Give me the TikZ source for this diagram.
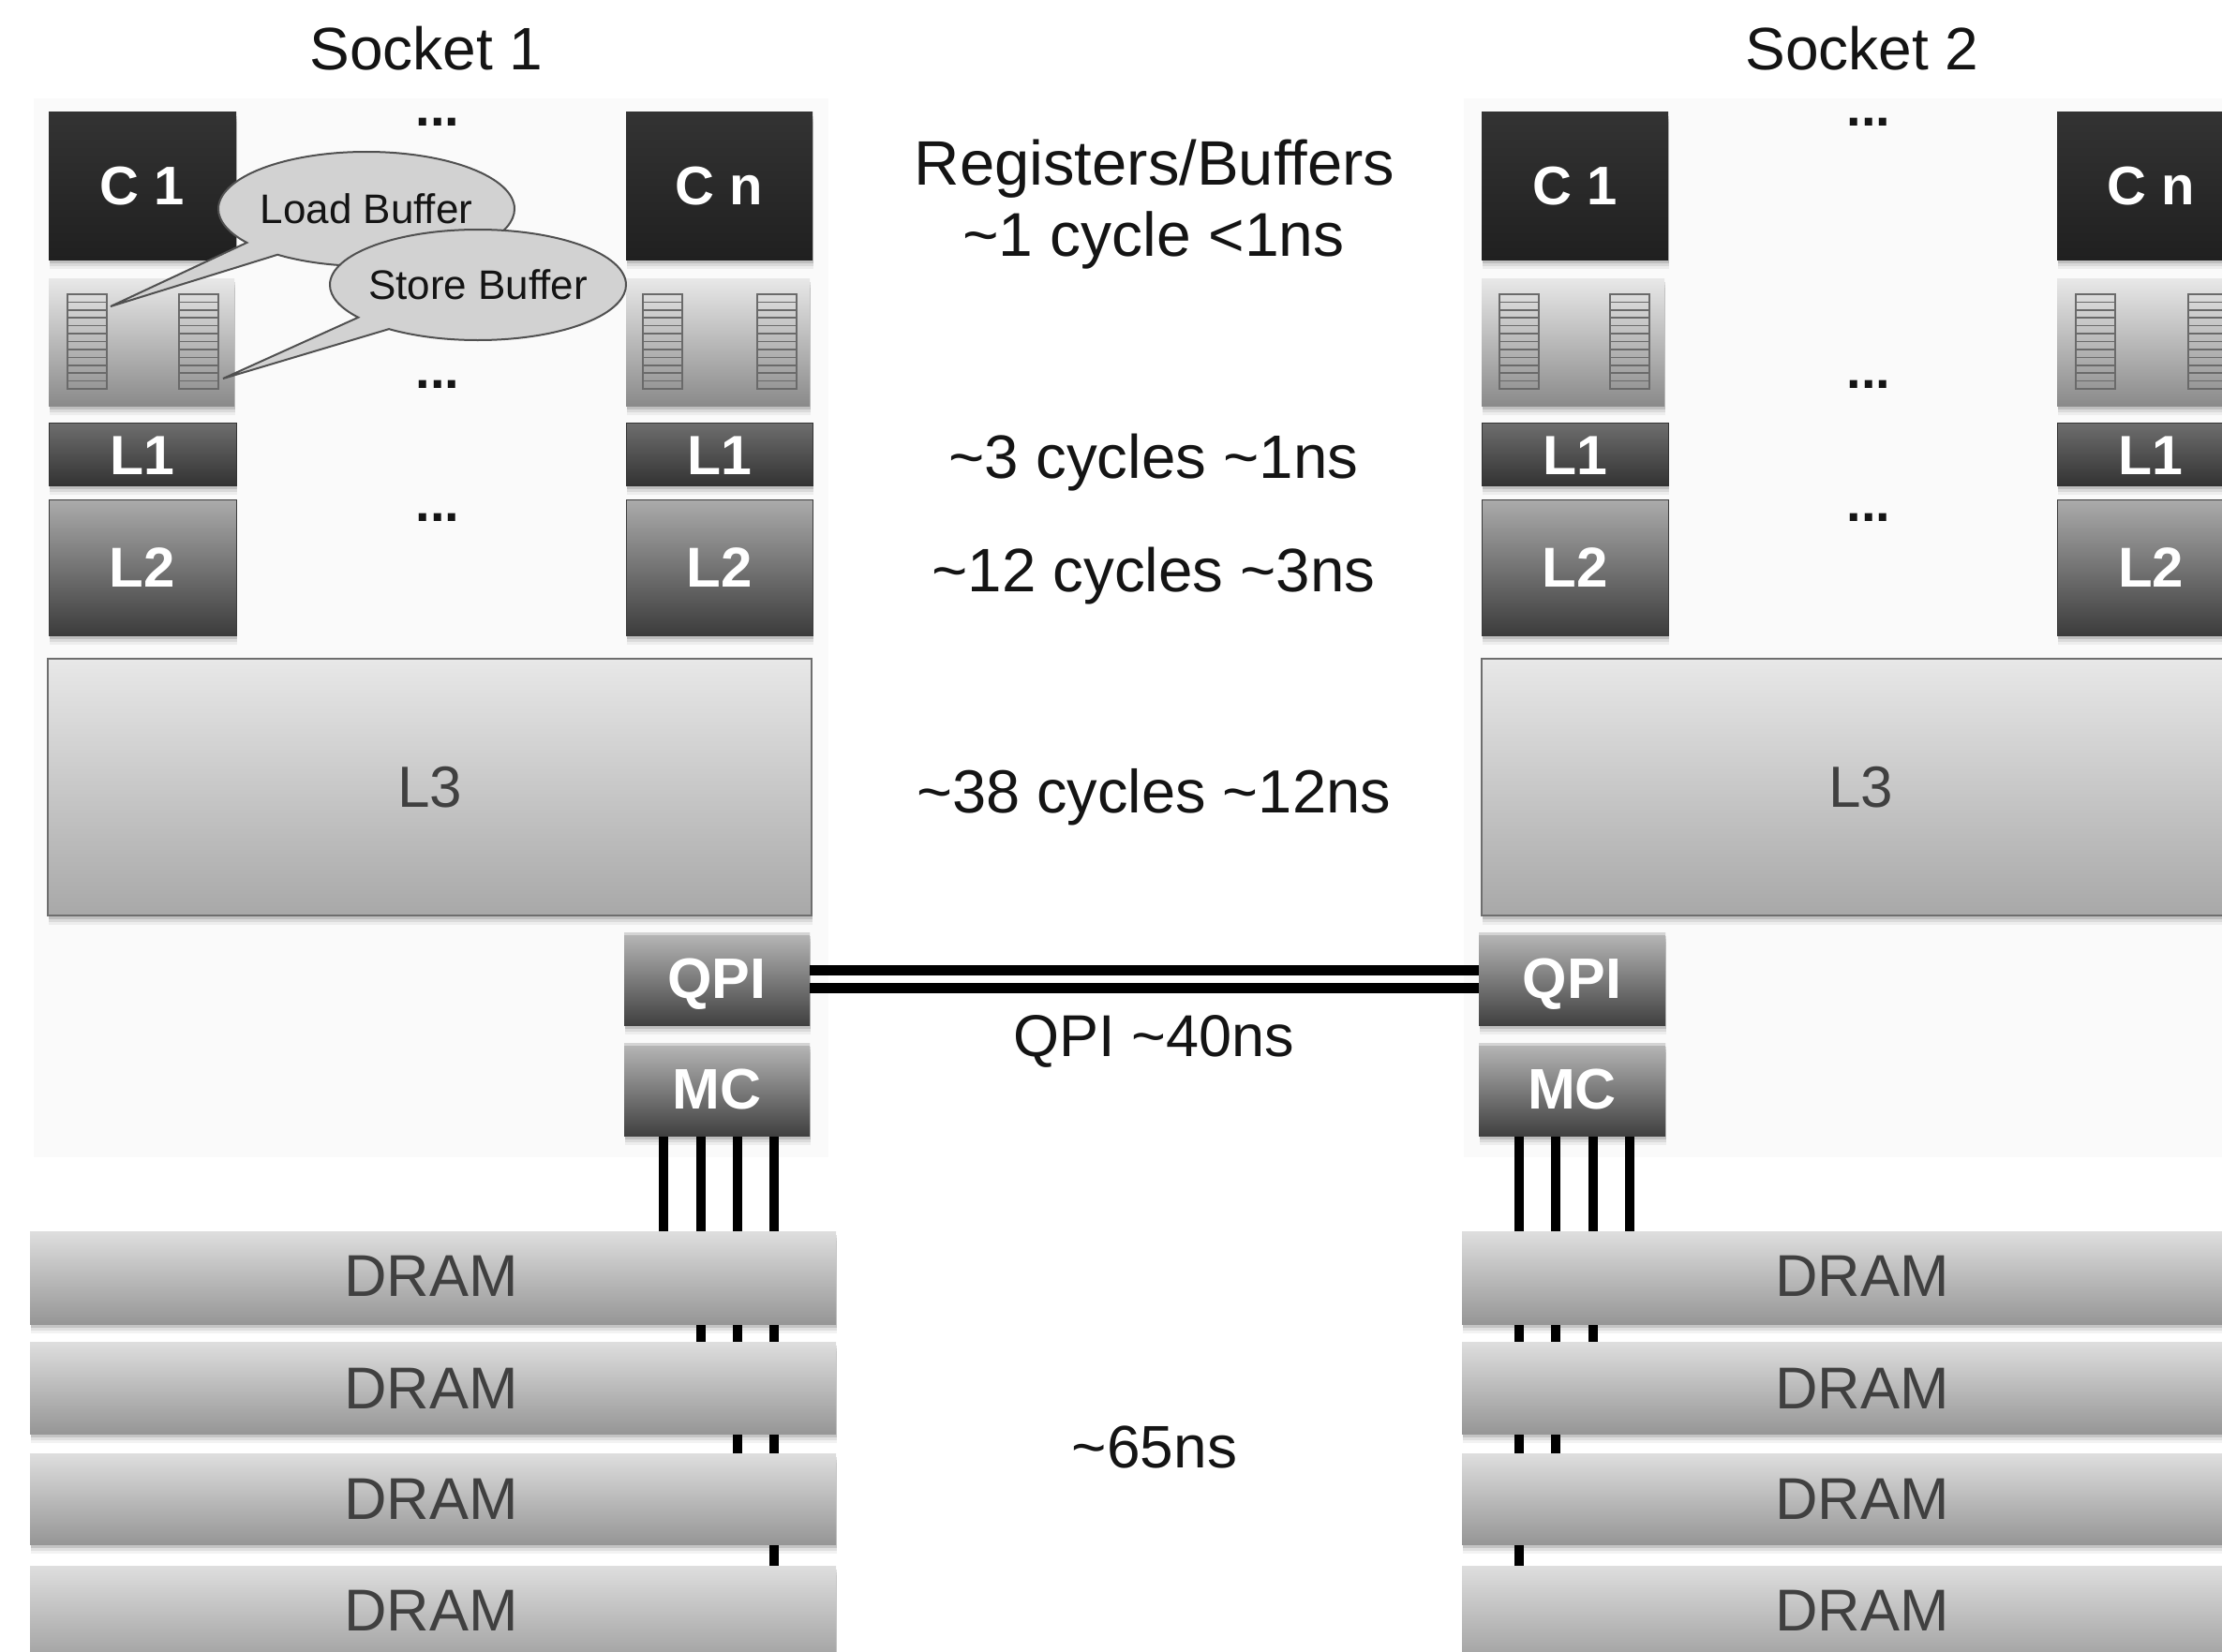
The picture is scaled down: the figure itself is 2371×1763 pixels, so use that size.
\documentclass[tikz,border=0pt]{standalone}
\usepackage{fontspec}
\setmainfont{Liberation Sans}
\usetikzlibrary{shapes.callouts,shadows,calc,backgrounds}
\newcommand\fs[1]{\fontsize{#1}{#1}\selectfont}
\newcommand\bx[7]{%
  \pgfmathsetmacro\bw{#5-#3}\pgfmathsetmacro\bh{#6-#4}%
  \pgfmathsetmacro\bcx{(#3+#5)/2}\pgfmathsetmacro\bcy{(#4+#6)/2}%
  \node[#2,minimum width=\bw pt,minimum height=\bh pt] (#1) at (\bcx,\bcy) {#7};}
\newcommand\qbar[1]{%
  \pgfmathsetmacro\qr{#1+42}%
  \foreach \r in {0,...,11} {\pgfmathsetmacro\qa{314+\r*8.42}\pgfmathsetmacro\qb{\qa+8.42}%
    \draw[qline] (#1,\qa) rectangle (\qr,\qb);}}
\tikzset{
  base/.style={inner sep=0pt,outer sep=0pt,text depth=0pt,align=center},
  soft/.style={drop shadow={shadow xshift=1pt,shadow yshift=-10pt,fill=black,opacity=.05},
               drop shadow={shadow xshift=1pt,shadow yshift=-7pt,fill=black,opacity=.08},
               drop shadow={shadow xshift=1pt,shadow yshift=-4pt,fill=black,opacity=.12}},
  core/.style={base,soft,top color=cTop,bottom color=cBot,text=white,font=\fs{58}\bfseries},
  buf/.style={base,soft,top color=bTop,bottom color=bBot},
  lone/.style={base,soft,top color=lTop,bottom color=lBot,draw=lBot,line width=1pt,text=white,font=\fs{59}\bfseries},
  ltwo/.style={base,soft,top color=tTop,bottom color=tBot,draw=tBot,line width=1pt,text=white,font=\fs{60}\bfseries},
  lthree/.style={base,soft,top color=hTop,bottom color=hBot,draw=hEdge,line width=2pt,text=dtext,font=\fs{62}},
  ctrl/.style={base,soft,top color=qTop,bottom color=qBot,text=white,font=\fs{61}\bfseries,
    path picture={\draw[qHi,line width=6pt] (path picture bounding box.north west) -- (path picture bounding box.north east);}},
  dram/.style={base,soft,top color=dTop,bottom color=dBot},
  dramtext/.style={inner sep=0pt,text depth=0pt,text=dtext,font=\fs{63}},
  qline/.style={draw=qEdge,line width=1.6pt},
  lab/.style={inner sep=0pt,text=ltext},
  dots/.style={inner sep=0pt,anchor=base,text=ltext,font=\fs{56}\bfseries},
  bubble/.style={ellipse callout,draw=bEdge,fill=bFill,line width=2pt,inner sep=0pt,text=ltext,font=\fs{44},
    callout pointer arc=17,text depth=0pt},
  wire/.style={draw=black,line width=10.5pt},
  linkbar/.style={draw=black,line width=11pt},
  sockbg/.style={fill=sBg,draw=none}
}
\definecolor{cTop}{HTML}{333333}\definecolor{cBot}{HTML}{202020}
\definecolor{bTop}{HTML}{E8E8E8}\definecolor{bBot}{HTML}{8A8A8A}
\definecolor{lTop}{HTML}{6E6E6E}\definecolor{lBot}{HTML}{333333}
\definecolor{tTop}{HTML}{ABABAB}\definecolor{tBot}{HTML}{3C3C3C}
\definecolor{hTop}{HTML}{E8E8E8}\definecolor{hBot}{HTML}{A8A8A8}\definecolor{hEdge}{HTML}{6E6E6E}
\definecolor{qTop}{HTML}{B8B8B8}\definecolor{qBot}{HTML}{404040}\definecolor{qHi}{HTML}{D4D4D4}
\definecolor{dTop}{HTML}{DEDEDE}\definecolor{dBot}{HTML}{969696}
\definecolor{dtext}{HTML}{404040}\definecolor{ltext}{HTML}{141414}
\definecolor{qEdge}{HTML}{6A6A6A}\definecolor{bEdge}{HTML}{505050}\definecolor{bFill}{HTML}{D2D2D2}
\definecolor{sBg}{HTML}{FAFAFA}
\begin{document}
\begin{tikzpicture}[x=1pt,y=-1pt]
\useasboundingbox (0,0) rectangle (2371,1763);
% headings and latencies
\node[lab,font=\fs{64}] (s1) at (455,52) {Socket 1};
\node[lab,font=\fs{64}] (s2) at (1987,52) {Socket 2};
\node[lab,font=\fs{67}] (t0) at (1232,180) {Registers/Buffers};
\node[lab,font=\fs{66}] (t1) at (1231,256) {\textasciitilde1 cycle <1ns};
\node[lab,font=\fs{65.5}] (t2) at (1231,494) {\textasciitilde3 cycles \textasciitilde1ns};
\node[lab,font=\fs{65.5}] (t3) at (1231,615) {\textasciitilde12 cycles \textasciitilde3ns};
\node[lab,font=\fs{65}] (t4) at (1231,851) {\textasciitilde38 cycles \textasciitilde12ns};
\node[lab,font=\fs{63}] (t5) at (1231,1111) {QPI \textasciitilde40ns};
\node[lab,font=\fs{64}] (t6) at (1232,1544) {\textasciitilde65ns};
% dots
\node[dots] (da) at (467,135) {...};
\node[dots] (db) at (467,414) {...};
\node[dots] (dc) at (467,556) {...};
\node[dots] (dd) at (1994,135) {...};
\node[dots] (de) at (1994,414) {...};
\node[dots] (df) at (1994,556) {...};
% socket 1
\bx{c1a}{core}{52}{120}{252}{277}{C 1}
\bx{cna}{core}{668}{120}{867}{277}{C n}
\bx{b1a}{buf}{52}{297}{250}{433}{}
\bx{bna}{buf}{668}{297}{864}{433}{}
\qbar{72}\qbar{191}\qbar{686}\qbar{808}
\bx{l1a}{lone}{52}{451}{252}{518}{\raisebox{-3pt}{L1}}
\bx{l1b}{lone}{668}{451}{867}{518}{\raisebox{-3pt}{L1}}
\bx{l2a}{ltwo}{52}{533}{252}{678}{L2}
\bx{l2b}{ltwo}{668}{533}{867}{678}{L2}
\bx{l3a}{lthree}{51}{703}{866}{977}{L3}
\bx{qa}{ctrl}{666}{995}{864}{1094}{QPI}
\bx{ma}{ctrl}{666}{1113}{864}{1212}{MC}
% socket 2
\bx{c1c}{core}{1581}{120}{1780}{277}{C 1}
\bx{cnc}{core}{2195}{120}{2395}{277}{C n}
\bx{b1c}{buf}{1581}{297}{1776}{433}{}
\bx{bnc}{buf}{2195}{297}{2395}{433}{}
\qbar{1600}\qbar{1718}\qbar{2215}\qbar{2335}
\bx{l1c}{lone}{1581}{451}{1780}{518}{\raisebox{-3pt}{L1}}
\bx{l1d}{lone}{2195}{451}{2395}{518}{\raisebox{-3pt}{L1}}
\bx{l2c}{ltwo}{1581}{533}{1780}{678}{L2}
\bx{l2d}{ltwo}{2195}{533}{2395}{678}{L2}
\bx{l3c}{lthree}{1581}{703}{2390}{977}{L3}
\bx{qc}{ctrl}{1578}{995}{1777}{1094}{QPI}
\bx{mc}{ctrl}{1578}{1113}{1777}{1212}{MC}
% DRAM
\foreach \n/\ya/\yb in {1/1314/1413,2/1432/1530,3/1551/1648,4/1671/1790} {
  \bx{da\n}{dram}{32}{\ya}{892}{\yb}{}
  \bx{dc\n}{dram}{1560}{\ya}{2415}{\yb}{}
}
\node[dramtext] (dla) at (460,1362) {DRAM};
\node[dramtext] (dlb) at (460,1482) {DRAM};
\node[dramtext] (dlc) at (460,1600) {DRAM};
\node[dramtext] (dld) at (460,1719) {DRAM};
\node[dramtext] (dre) at (1987,1362) {DRAM};
\node[dramtext] (drf) at (1987,1482) {DRAM};
\node[dramtext] (drg) at (1987,1600) {DRAM};
\node[dramtext] (drh) at (1987,1719) {DRAM};
% socket panels and wires, beneath the boxes and DRAM modules
\begin{scope}[on background layer]
  \fill[sockbg] (36,105) rectangle (884,1235);
  \fill[sockbg] (1562,105) rectangle (2371,1235);
  \foreach \dx/\n in {42/1,82/2,121/3,160/4}
    \draw[wire] ($(ma.south west)+(\dx,0)$) -- ($(da\n.north west)+(\dx+634,6)$);
  \foreach \dx/\n in {43/4,82/3,122/2,161/1}
    \draw[wire] ($(mc.south west)+(\dx,0)$) -- ($(dc\n.north west)+(\dx+18,6)$);
\end{scope}
% QPI link
\draw[linkbar] ($(qa.east)+(0,-9)$) -- ($(qc.west)+(0,-9)$);
\draw[linkbar] ($(qa.east)+(0,10)$) -- ($(qc.west)+(0,10)$);
% callouts
\coordinate (tipL) at (118,327);
\coordinate (tipS) at (238,404);
\node[bubble,minimum width=316pt,minimum height=122pt,callout absolute pointer={(tipL)}] (lb) at (391,223) {\makebox[0pt]{Load Buffer}};
\node[bubble,minimum width=316pt,minimum height=118pt,callout absolute pointer={(tipS)}] (sb) at (510,304) {\makebox[0pt]{Store Buffer}};
\end{tikzpicture}
\end{document}
